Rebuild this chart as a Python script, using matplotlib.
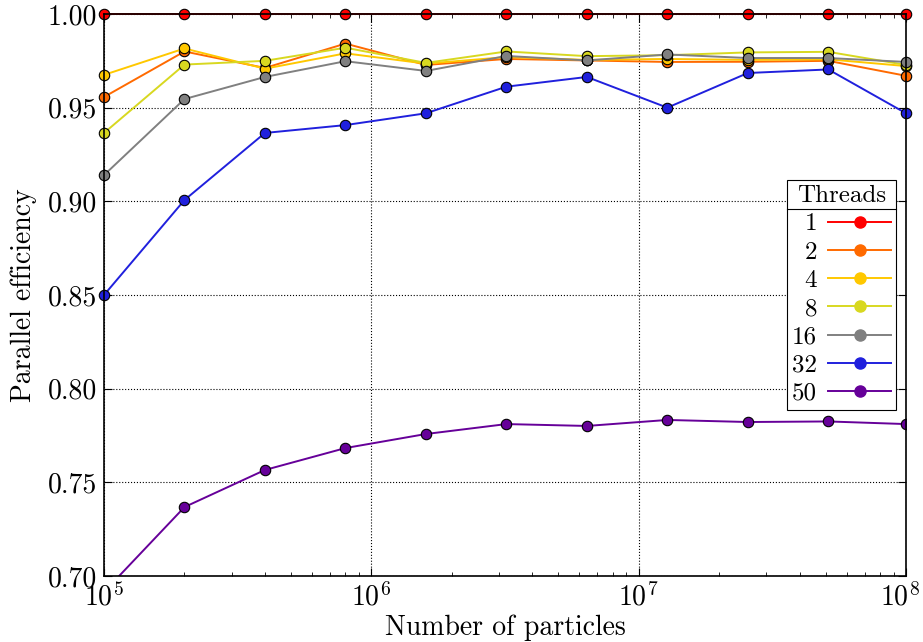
import matplotlib
matplotlib.use("Agg")
import matplotlib.pyplot as plt
import matplotlib.transforms as mtransforms
from matplotlib.lines import Line2D

# ---- datos ----
particulas = [1e5, 2e5, 4e5, 8e5, 1.6e6, 3.2e6, 6.4e6, 1.28e7, 2.56e7, 5.12e7, 1e8]

hilos = ["1", "2", "4", "8", "16", "32", "50"]
colores = ["#ff0000", "#ff6a00", "#ffc800", "#d8d820", "#808080", "#2020dd", "#660099"]

ef_1 = [1.0, 1.0, 1.0, 1.0, 1.0, 1.0, 1.0, 1.0, 1.0, 1.0, 1.0]
ef_2 = [0.9557, 0.9800, 0.9712, 0.9842, 0.9728, 0.9760, 0.9752, 0.9744, 0.9745, 0.9750, 0.9670]
ef_4 = [0.9675, 0.9816, 0.9708, 0.9790, 0.9735, 0.9770, 0.9755, 0.9760, 0.9755, 0.9758, 0.9722]
ef_8 = [0.9365, 0.9730, 0.9750, 0.9820, 0.9739, 0.9800, 0.9775, 0.9780, 0.9795, 0.9798, 0.9728]
ef_16 = [0.9140, 0.9546, 0.9664, 0.9748, 0.9696, 0.9776, 0.9752, 0.9784, 0.9765, 0.9765, 0.9744]
ef_32 = [0.8500, 0.9007, 0.9365, 0.9407, 0.9470, 0.9612, 0.9664, 0.9500, 0.9685, 0.9704, 0.9470]
ef_50 = [0.6915, 0.7368, 0.7566, 0.7683, 0.7758, 0.7811, 0.7801, 0.7833, 0.7822, 0.7825, 0.7811]

series = [ef_1, ef_2, ef_4, ef_8, ef_16, ef_32, ef_50]

# ---- estilo ----
plt.rcParams["font.family"] = ["cmr10", "DejaVu Serif"]
plt.rcParams["mathtext.fontset"] = "cm"
plt.rcParams["axes.formatter.use_mathtext"] = True
plt.rcParams["font.size"] = 20

fig = plt.figure(figsize=(9.23, 6.42), dpi=100)
ax = fig.add_axes([0.1127, 0.1028, 0.8689, 0.8754])

for lab, col, ys in zip(hilos, colores, series):
    ax.plot(particulas, ys, color=col, lw=1.4, marker="o", ms=7.5,
            markerfacecolor=col, markeredgecolor="black", markeredgewidth=0.8,
            label=lab, clip_on=False if lab != "50" else True)

ax.set_xscale("log")
ax.set_xlim(1e5, 1e8)
ax.set_ylim(0.70, 1.00)
ax.set_yticks([0.70, 0.75, 0.80, 0.85, 0.90, 0.95, 1.00])
ax.set_yticklabels([f"{v:.2f}" for v in [0.70, 0.75, 0.80, 0.85, 0.90, 0.95, 1.00]])

ax.grid(True, which="major", color="black", linestyle=":", linewidth=0.8)
ax.tick_params(which="both", direction="in", top=True, right=True)
ax.tick_params(which="major", length=6, labelsize=20, pad=5)
ax.tick_params(which="minor", length=3)
for s in ax.spines.values():
    s.set_linewidth(1.2)

ax.set_xlabel("Number of particles", fontsize=20, labelpad=2)
ax.set_ylabel("Parallel efficiency", fontsize=20, labelpad=8)

leg_handles = [Line2D([0], [0], color=c, lw=1.4, marker="o", ms=8, markerfacecolor=c,
                      markeredgecolor=c) for c in colores]
leg = ax.legend(leg_handles, hilos, title="Threads", loc="center right",
                bbox_to_anchor=(0.988, 0.5), markerfirst=False, fontsize=18,
                title_fontsize=18, frameon=True, fancybox=False, framealpha=1,
                edgecolor="black", handlelength=2.5, labelspacing=0.23,
                handletextpad=0.45, borderpad=0.22, borderaxespad=0.0)
leg.get_frame().set_linewidth(0.8)
for t in leg.get_texts():
    t.set_ha("right")

# ultima etiqueta del eje x un poco a la izquierda
fig.canvas.draw()
ultima = [t for t in ax.get_xticklabels() if t.get_position()[0] >= 9.9e7]
for t in ultima:
    t.set_transform(t.get_transform() + mtransforms.ScaledTranslation(-6 / 100, 0, fig.dpi_scale_trans))

# linea bajo el titulo de la leyenda
r = fig.canvas.get_renderer()
fb = leg.get_frame().get_window_extent(r)
tb = leg.get_title().get_window_extent(r)
ysep = tb.y0 - 2
fig.add_artist(Line2D([fb.x0 / fig.bbox.width, fb.x1 / fig.bbox.width],
                      [ysep / fig.bbox.height, ysep / fig.bbox.height],
                      color="black", lw=0.8))

fig.savefig("out.png", dpi=100)
